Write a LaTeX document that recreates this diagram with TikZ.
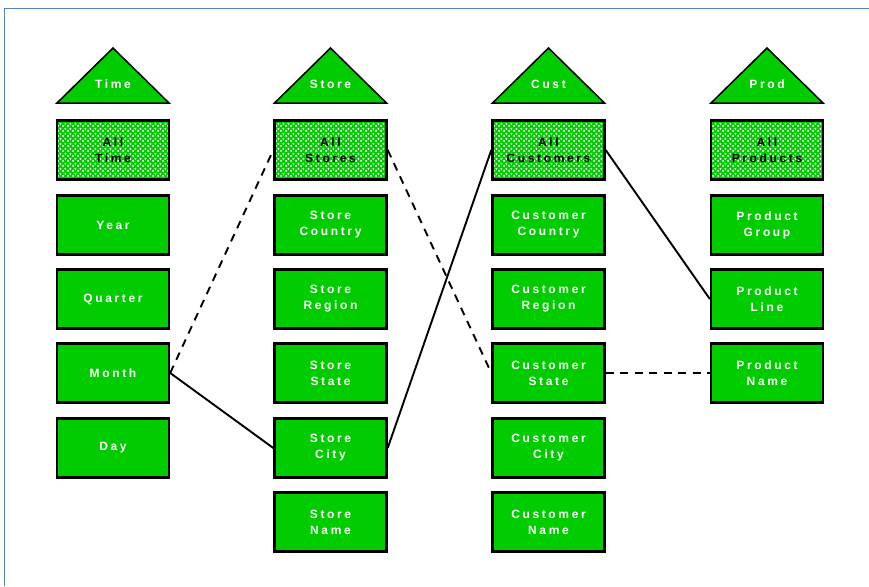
\documentclass[tikz,border=0pt]{standalone}
\usepackage{fontspec}
\setmainfont{Liberation Sans}
\newfontfamily\labelfont[LetterSpace=22]{Liberation Sans Bold}
\usetikzlibrary{patterns.meta}
\definecolor{cubegreen}{RGB}{0,204,0}
\definecolor{framblue}{RGB}{84,130,190}
% staggered white dots for the "All" levels
\tikzdeclarepattern{
  name=lvldots, type=uncolored,
  bounding box={(0pt,0pt) and (5.2pt,4.6pt)},
  tile size={(5.2pt,4.6pt)},
  code={
    \fill (1.3pt,1.15pt) circle (1.2pt);
    \fill (3.9pt,3.45pt) circle (1.2pt);
  }
}
\tikzset{
  lvl/.style={draw=black, line width=2.4pt, fill=cubegreen, minimum width=112pt,
    minimum height=59pt, inner sep=0pt, align=center, text=white,
    font=\labelfont\fontsize{12}{16}\selectfont},
  toplvl/.style={lvl, fill=none, text=black,
    preaction={fill=cubegreen},
    postaction={pattern=lvldots, pattern color=white},
    postaction={draw=black, line width=2.4pt}},
  dimtri/.style={draw=black, line width=1.5pt, fill=cubegreen, line join=miter},
  dimname/.style={text=white, font=\labelfont\fontsize{12}{16}\selectfont, inner sep=0pt},
  link/.style={line width=1.9pt, black},
  dlink/.style={link, dash pattern=on 8pt off 6.5pt}
}
\begin{document}
\begin{tikzpicture}[x=1pt,y=-1pt]
\useasboundingbox (0,0) rectangle (869,586);
% frame
\draw[framblue, line width=1.6pt] (4.5,586) -- (4.5,8.5) -- (869,8.5);

% dimension triangles
\foreach \cx/\nm in {113/Time,330.5/Store,548.5/Cust,767/Prod}{
  \draw[dimtri] (\cx-56,103) -- (\cx,48) -- (\cx+56,103) -- cycle;
  \node[dimname] (tri\nm) at (\cx,84) {\nm};
}

% Time hierarchy
\node[toplvl] (allTime) at (113,150) {All\\Time};
\node[lvl] (year)    at (113,225) {Year};
\node[lvl] (quarter) at (113,299) {Quarter};
\node[lvl] (month)   at (113,373) {Month};
\node[lvl] (day)     at (113,448) {Day};

% Store hierarchy
\node[toplvl] (allStores) at (330.5,150) {All\\Stores};
\node[lvl] (sCountry) at (330.5,225) {Store\\Country};
\node[lvl] (sRegion)  at (330.5,299) {Store\\Region};
\node[lvl] (sState)   at (330.5,373) {Store\\State};
\node[lvl] (sCity)    at (330.5,448) {Store\\City};
\node[lvl] (sName)    at (330.5,522) {Store\\Name};

% Customer hierarchy
\node[toplvl] (allCust) at (548.5,150) {All\\Customers};
\node[lvl] (cCountry) at (548.5,225) {Customer\\Country};
\node[lvl] (cRegion)  at (548.5,299) {Customer\\Region};
\node[lvl] (cState)   at (548.5,373) {Customer\\State};
\node[lvl] (cCity)    at (548.5,448) {Customer\\City};
\node[lvl] (cName)    at (548.5,522) {Customer\\Name};

% Product hierarchy
\node[toplvl] (allProd) at (767,150) {All\\Products};
\node[lvl] (pGroup) at (767,225) {Product\\Group};
\node[lvl] (pLine)  at (767,299) {Product\\Line};
\node[lvl] (pName)  at (767,373) {Product\\Name};

% aggregation paths
\draw[dlink] (month.east) -- (allStores.west);
\draw[link]  (month.east) -- (sCity.west);
\draw[dlink] (allStores.east) -- (cState.west);
\draw[link]  (sCity.east) -- (allCust.west);
\draw[link]  (allCust.east) -- (pLine.west);
\draw[dlink] (cState.east) -- (pName.west);
\end{tikzpicture}
\end{document}
